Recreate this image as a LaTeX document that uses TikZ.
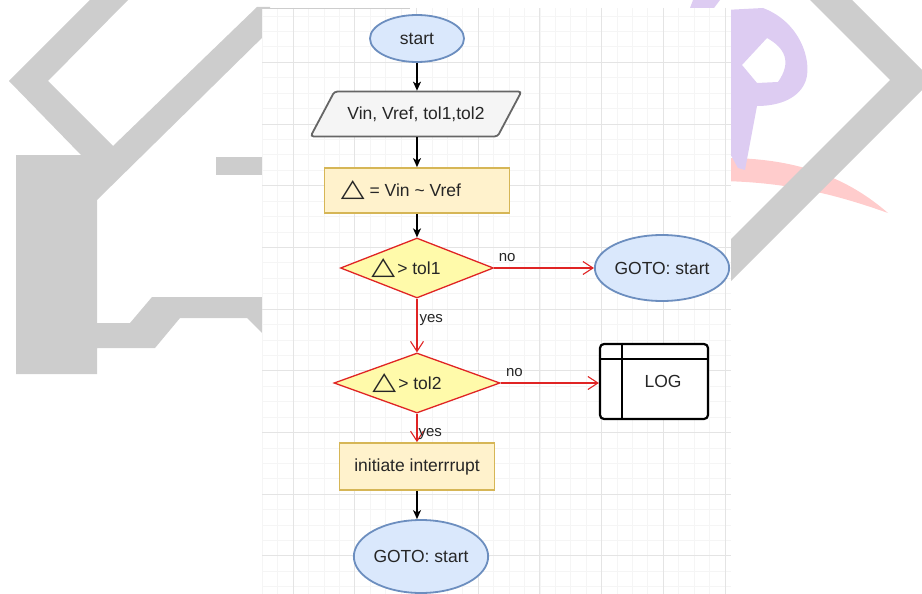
\documentclass[tikz,border=0pt]{standalone}
\usepackage{fontspec}
\setmainfont{Liberation Sans}
\newfontfamily\symfont{DejaVu Sans}
\usetikzlibrary{shapes.geometric,arrows.meta}

\definecolor{txt}{HTML}{262626}
\definecolor{termfill}{HTML}{DAE8FC}
\definecolor{termline}{HTML}{6C8EBF}
\definecolor{iofill}{HTML}{F5F5F5}
\definecolor{ioline}{HTML}{666666}
\definecolor{procfill}{HTML}{FFF2CC}
\definecolor{procline}{HTML}{D6B656}
\definecolor{decfill}{HTML}{FFFAAA}
\definecolor{decline}{HTML}{E02424}
\definecolor{wmgray}{HTML}{CDCDCD}
\definecolor{wmpurple}{HTML}{DDCCF2}
\definecolor{wmpink}{HTML}{FFCCCC}
\definecolor{gridminor}{HTML}{F5F5F5}
\definecolor{gridmajor}{HTML}{E4E4E4}

\newcommand\tri{\scalebox{1}[0.8]{\symfont\fontsize{31}{31}\selectfont △}}

\begin{document}
\begin{tikzpicture}
[
    x=1pt, y=-1pt,
    every node/.style={font=\fontsize{17.5}{21}\selectfont, text=txt},
    term/.style={ellipse, draw=termline, fill=termfill, line width=1.8pt, inner sep=0pt},
    inout/.style={trapezium, trapezium left angle=62, trapezium right angle=118,
        draw=ioline, fill=iofill, line width=1.8pt, rounded corners=3pt,
        inner xsep=13pt, inner ysep=15pt},
    proc/.style={rectangle, draw=procline, fill=procfill, line width=1.8pt, inner sep=0pt},
    test/.style={diamond, aspect=2.5, draw=decline, fill=decfill, line width=1.3pt,
        inner sep=0pt, minimum height=60pt},
    store/.style={rectangle, rounded corners=4pt, draw=black, line width=2.2pt,
        fill=white, inner sep=0pt, minimum width=108pt, minimum height=75pt},
    go/.style={draw=black, line width=1.3pt, -{Stealth[length=9pt,width=8pt,inset=2.5pt]}},
    branch/.style={draw=decline, line width=1.1pt, -{Straight Barb[length=10pt,width=13pt]}},
    tag/.style={font=\fontsize{15}{18}\selectfont, inner sep=2pt},
]
\useasboundingbox (0,0) rectangle (922,594);

% watermark
\fill[wmgray] (90,0) -- (128,0) -- (48,81) -- (113,146) -- (257,7) -- (270,7) -- (270,30)
    -- (97,200) -- (97,323) -- (130,323) -- (152,297) -- (270,297) -- (270,341)
    -- (247,318) -- (180,318) -- (155,348) -- (97,348) -- (97,374) -- (16,374)
    -- (16,155) -- (81,155) -- (9,81) -- cycle;
\fill[wmgray] (216,157) rectangle (270,175);
\fill[wmpink] (720,158) .. controls (800,157) and (850,180) .. (888,213)
    .. controls (840,196) and (790,182) .. (720,181) -- cycle;
\fill[wmpurple, even odd rule] (700,40) -- (725,10) -- (763,8)
    .. controls (800,22) and (812,60) .. (806,80) .. controls (800,98) and (780,106) .. (757,106)
    -- (745,170) -- (738,168) -- (700,100) -- cycle
    (767,38) .. controls (785,48) and (792,62) .. (778,82) -- (757,83) -- (742,65) -- cycle;
\fill[wmpurple] (693,0) -- (720,0) -- (714,8) -- (690,8) -- cycle;
\fill[wmgray] (810,0) -- (852,0) -- (932,80) -- (725,287) -- (725,245) -- (890,80) -- cycle;

% drawing sheet
\fill[white] (262,8) rectangle (731,594);
\foreach \i in {0,...,30}
    \draw[gridminor, line width=0.6pt] ({262.15+15.425*\i},8) -- ++(0,586);
\foreach \j in {0,...,37}
    \draw[gridminor, line width=0.6pt] (262,{15.9+15.425*\j}) -- ++(469,0);
\foreach \i in {0,...,7}
    \draw[gridmajor, line width=0.7pt] ({293+61.7*\i},8) -- ++(0,586);
\foreach \j in {1,...,9}
    \draw[gridmajor, line width=0.7pt] (262,{0.5+61.7*\j}) -- ++(469,0);
\draw[wmgray, line width=0.8pt] (262,8) -- (410,8);

\node[term, minimum width=94pt, minimum height=47pt] (start) at (417,38.5) {start};
\node[inout] (input) at (416,114) {Vin, Vref, tol1,tol2};
\node[proc, minimum width=185pt, minimum height=45pt] (delta) at (417,190.5)
    {\tri\ = Vin \textasciitilde\ Vref\hspace*{32pt}};
\node[test, minimum width=153pt] (chk1) at (417,268) {\tri\kern2pt> tol1\hspace*{22pt}};
\node[term, minimum width=124pt, minimum height=66pt] (goto1) at (662,268) {GOTO: start};
\node[test, minimum width=166pt] (chk2) at (417,383) {\tri\kern2pt> tol2\hspace*{20pt}};
\node[store] (log) at (654,381.5) {\hspace*{18pt}LOG};
\draw[line width=1.8pt] ([xshift=23pt]log.north west) -- ([xshift=23pt]log.south west);
\draw[line width=1.8pt] ([yshift=-16pt]log.north west) -- ([yshift=-16pt]log.north east);
\node[proc, minimum width=155pt, minimum height=47pt] (intr) at (417,466.5) {initiate interrrupt};
\node[term, minimum width=123pt, minimum height=73pt] (goto2) at (421,556.5) {GOTO: start};

\draw[go] (start) -- (start |- input.north);
\draw[go] (start |- input.south) -- (delta);
\draw[go] (delta) -- (chk1);
\draw[branch] (chk1.east) -- node[tag, pos=0.13, above, yshift=4pt] {no} (chk1.east -| goto1.west);
\draw[branch] (chk1.south) -- node[tag, pos=0.40, right] {yes} (chk2.north);
\draw[branch] (chk2.east) -- node[tag, pos=0.14, above, yshift=4pt] {no} (chk2.east -| log.west);
\draw[branch] (chk2.south) -- node[tag, pos=0.70, right, inner sep=1pt] {yes} (intr.north);
\draw[go] (intr.south) -- (intr.south |- goto2.north);
\end{tikzpicture}
\end{document}
